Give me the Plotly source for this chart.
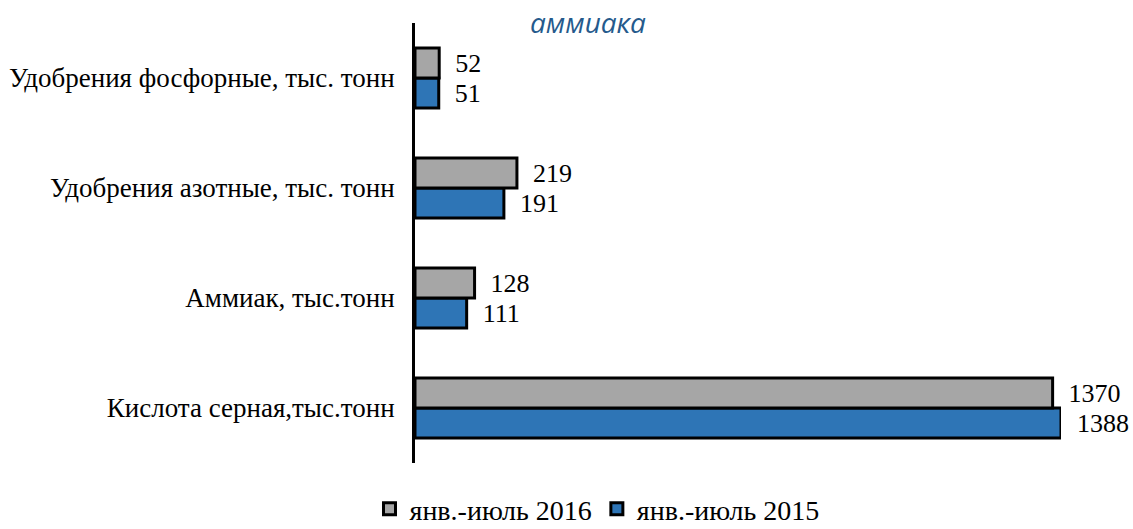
import plotly.graph_objects as go

categories = ["Кислота серная,тыс.тонн", "Аммиак, тыс.тонн",
              "Удобрения азотные, тыс. тонн", "Удобрения фосфорные, тыс. тонн"]
values_2015 = [1388, 111, 191, 51]
values_2016 = [1370, 128, 219, 52]
name_2015 = "янв.-июль 2015"
name_2016 = "янв.-июль 2016"
title_text = "аммиака"

serif = "Liberation Serif"

fig = go.Figure()
fig.add_trace(go.Bar(
    y=categories, x=values_2015, name=name_2015, orientation="h",
    marker=dict(color="#2E75B6", line=dict(color="black", width=3)),
    text=values_2015, texttemplate="  %{x}", textposition="outside",
    textfont=dict(family=serif, size=26, color="black"), cliponaxis=False,
))
fig.add_trace(go.Bar(
    y=categories, x=values_2016, name=name_2016, orientation="h",
    marker=dict(color="#A6A6A6", line=dict(color="black", width=3)),
    text=values_2016, texttemplate="  %{x}", textposition="outside",
    textfont=dict(family=serif, size=26, color="black"), cliponaxis=False,
))

fig.add_annotation(text=title_text, xref="paper", yref="paper",
                   x=(588 - 415) / 646, y=1 + 1 / 440, xanchor="center", yanchor="middle",
                   showarrow=False,
                   font=dict(family="Open Sans, sans-serif", size=28, color="#255A8C",
                             style="italic"))

fig.update_layout(
    width=1133, height=529,
    margin=dict(l=415, r=72, t=23, b=66, autoexpand=False),
    paper_bgcolor="white", plot_bgcolor="rgba(0,0,0,0)",
    barmode="group", bargap=0.4545, bargroupgap=0,
    showlegend=True,
    legend=dict(orientation="h", traceorder="reversed", xref="container", yref="container",
                x=597 / 1133, y=20 / 529, xanchor="center", yanchor="middle",
                font=dict(family=serif, size=28, color="black"), itemwidth=30),
    xaxis=dict(range=[0, 1388], visible=False, fixedrange=True),
    yaxis=dict(showline=True, linecolor="black", linewidth=3, showgrid=False,
               ticks="", tickfont=dict(family=serif, size=27, color="black"),
               ticklabelstandoff=12, zeroline=False, fixedrange=True),
)

fig.write_html("out.html", config={"displayModeBar": False},
               post_script="document.body.style.margin='0';")
